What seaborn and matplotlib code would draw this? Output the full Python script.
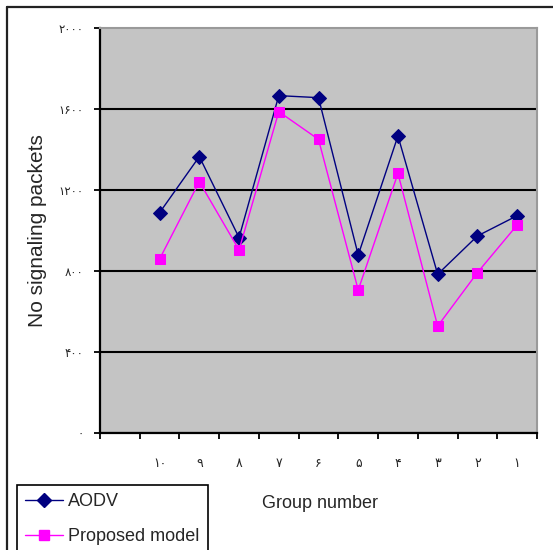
import matplotlib
matplotlib.use("Agg")
import matplotlib.pyplot as plt
import numpy as np
import pandas as pd
import seaborn as sns
from matplotlib.lines import Line2D
from matplotlib.patches import Rectangle

# Group numbers (right-to-left order), signaling packet counts per protocol
groups = ["۱۰", "۹", "۸", "۷", "۶", "۵", "۴", "۳", "۲", "۱"]
aodv = [1088, 1365, 965, 1666, 1656, 879, 1467, 784, 973, 1073]
proposed = [859, 1241, 904, 1587, 1450, 706, 1282, 528, 792, 1027]
series_names = ["AODV", "Proposed model"]
y_ticks = [0, 400, 800, 1200, 1600, 2000]
y_tick_labels = ["۰", "۴۰۰", "۸۰۰", "۱۲۰۰", "۱۶۰۰", "۲۰۰۰"]

colors = {"AODV": "#000080", "Proposed model": "#FF00FF"}
markers = {"AODV": "D", "Proposed model": "s"}

# First category slot is left empty; groups occupy slots 1..10
rows = []
for name, vals in zip(series_names, [aodv, proposed]):
    for i, (g, v) in enumerate(zip(groups, vals)):
        rows.append({"slot": i + 1, "group": g, "series": name, "packets": v})
df = pd.DataFrame(rows)

sns.set_style("white")
plt.rcParams["font.family"] = ["Liberation Sans", "DejaVu Sans"]

W, H = 553, 550
fig = plt.figure(figsize=(W / 100, H / 100), dpi=100)
ax = fig.add_axes([100 / W, 1 - 433 / H, 437 / W, 405 / H])
ax.set_facecolor("#C4C4C4")

sns.lineplot(data=df, x="slot", y="packets", hue="series", style="series",
             palette=colors, markers=markers, dashes=False, sort=False,
             linewidth=1.0, markersize=7, legend=False, ax=ax)
for line in ax.get_lines():
    line.set_markeredgecolor(line.get_color())
    line.set_markerfacecolor(line.get_color())

ax.set_xlim(-0.5, 10.5)
ax.set_ylim(0, 2000)

# Tick marks at category boundaries, labels centred in the categories
ax.set_xticks(np.arange(-0.5, 11, 1.0))
ax.set_xticklabels([])
ax.set_xticks(np.arange(1, 11), minor=True)
ax.set_xticklabels(groups, minor=True, family=["DejaVu Sans"], fontsize=9)
ax.tick_params(axis="x", which="major", direction="out", length=4, width=1.3,
               color="black", bottom=True)
ax.tick_params(axis="x", which="minor", length=0, pad=17, bottom=True)

ax.set_yticks(y_ticks)
ax.set_yticklabels(y_tick_labels, family=["DejaVu Sans"], fontsize=8.5)
ax.tick_params(axis="y", direction="out", length=4, width=1.3, color="black",
               pad=8, left=True)

ax.yaxis.grid(True, color="black", linewidth=1.5)
ax.xaxis.grid(False)
ax.get_ygridlines()[-1].set_visible(False)
ax.set_axisbelow(True)

for side in ("left", "bottom"):
    ax.spines[side].set_color("black")
    ax.spines[side].set_linewidth(1.6)
for side in ("top", "right"):
    ax.spines[side].set_color("#9A9A9A")
    ax.spines[side].set_linewidth(1.5)

ax.set_xlabel("")
ax.set_ylabel("")

fig.text(38 / W, 1 - 231 / H, "No signaling packets", rotation=90,
         ha="center", va="center", fontsize=15)
fig.text(320 / W, 1 - 503 / H, "Group number", ha="center", va="center",
         fontsize=13)

# Outer chart border (top and left edges)
fig.add_artist(Line2D([7 / W, 1.0], [1 - 7 / H, 1 - 7 / H],
                      transform=fig.transFigure, color="#222222", lw=1.6))
fig.add_artist(Line2D([7 / W, 7 / W], [0, 1 - 7 / H],
                      transform=fig.transFigure, color="#222222", lw=1.6))

# Legend box running off the bottom edge
fig.add_artist(Rectangle((17 / W, -0.05), (208 - 17) / W, (H - 485) / H + 0.05,
                         transform=fig.transFigure, facecolor="white",
                         edgecolor="black", lw=1.2, clip_on=False))
handles = [Line2D([], [], color=colors[n], marker=markers[n], lw=1.0,
                  markersize=7, markeredgecolor=colors[n],
                  markerfacecolor=colors[n])
           for n in series_names]
fig.legend(handles, series_names, loc="upper left",
           bbox_to_anchor=(25 / W, 1 - 493 / H), frameon=False, fontsize=13,
           handlelength=2.1, handletextpad=0.3, labelspacing=1.0,
           borderaxespad=0, borderpad=0)

fig.savefig("out.png", dpi=100)
